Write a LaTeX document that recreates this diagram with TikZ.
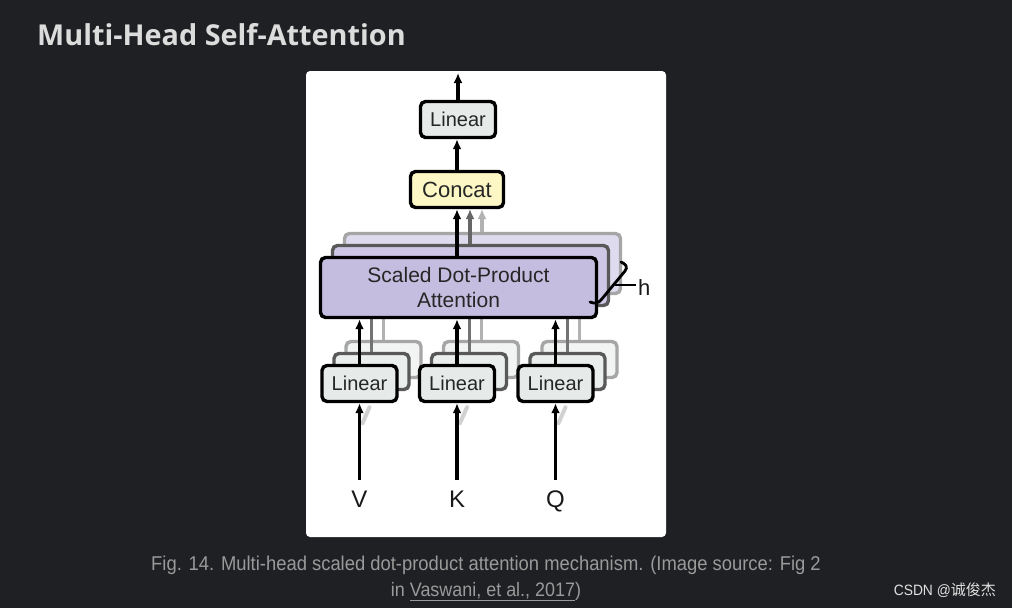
\documentclass[tikz,border=0pt]{standalone}
\usepackage{fontspec}
\setmainfont{Liberation Sans}
\newfontfamily\titlefont{Open Sans}
\newfontfamily\capfont[FakeStretch=0.92]{Liberation Sans}
\newfontfamily\cjkfont{Noto Sans CJK SC}
\usetikzlibrary{arrows.meta}

\definecolor{pagebg}{HTML}{1F2023}
\definecolor{titlegray}{HTML}{DCDCDC}
\definecolor{capgray}{HTML}{9A9A9A}
\definecolor{lingray}{HTML}{E6EBE9}
\definecolor{concatyel}{HTML}{FCF7C5}
\definecolor{attnpurple}{HTML}{C5BDE0}

\tikzset{
  blockbox/.style={draw, line width=3.4pt, rounded corners=5pt, inner sep=0pt,
    text=black!85, font=\fontsize{20}{22}\selectfont},
  linbox/.style={blockbox, fill=lingray, minimum width=75, minimum height=36},
  shadeone/.style={draw=black!65, fill=#1!85!white},
  shadetwo/.style={draw=black!35, fill=#1!55!white},
  arr/.style={line width=3.2pt, -{Latex[length=10pt,width=9pt]}},
  ghost/.style={line width=3pt, draw=#1},
}

\begin{document}
\begin{tikzpicture}[x=1pt,y=-1pt]
\useasboundingbox (0,0) rectangle (1012,608);
\fill[pagebg] (0,0) rectangle (1012,608);

% title
\node[anchor=base west, inner sep=0pt, text=titlegray,
  font=\titlefont\bfseries\fontsize{28.8}{32}\selectfont] (title) at (37,45) {Multi-Head Self-Attention};

% white panel
\fill[white, rounded corners=4pt] (306,71) rectangle (666,537);

% stacked attention heads
\node[blockbox, shadetwo=attnpurple, minimum width=276, minimum height=60] (attn2) at (482.5,263.5) {};
\node[blockbox, shadeone=attnpurple, minimum width=276, minimum height=60] (attn1) at (470.5,275.5) {};

% stacked linear layers
\foreach \cx/\nm in {359.5/v, 457/k, 555.5/q}{
  \node[linbox, shadetwo=lingray] (lin2\nm) at (\cx+24,359.5) {};
  \node[linbox, shadeone=lingray] (lin1\nm) at (\cx+12,371.5) {};
  \draw[ghost=black!30] (lin2\nm.north) -- (lin2\nm.north |- 0,319);
  \draw[ghost=black!55] (lin1\nm.north) -- (lin1\nm.north |- 0,319);
  \node[linbox] (lin\nm) at (\cx,383.5) {Linear};
}

\node[blockbox, fill=attnpurple, minimum width=276, minimum height=60, align=center,
  font=\fontsize{21}{25.5}\selectfont] (attn) at (458.5,287.5) {Scaled Dot-Product\\Attention};

\node[blockbox, fill=concatyel, minimum width=93, minimum height=36,
  font=\fontsize{22}{24}\selectfont] (concat) at (457,189.5) {Concat};
\node[linbox] (linout) at (458,119.5) {Linear};
\coordinate (out) at (458,73);

% inputs
\foreach \cx/\nm/\lbl in {359.5/v/V, 457/k/K, 555.5/q/Q}{
  \node[text=black!90, font=\fontsize{24}{26}\selectfont, anchor=base, inner sep=0pt] (in\nm) at (\cx,507) {\lbl};
  \coordinate (src\nm) at (\cx,480);
  \draw[line width=4pt, black!18, line cap=round] ([xshift=10,yshift=-4]lin\nm.south) -- ([xshift=3,yshift=-20]lin\nm.south);
  \draw[arr] (src\nm) -- (lin\nm.south);
  \draw[arr] (lin\nm.north) -- (lin\nm.north |- attn.south);
}

% arrows to concat
\draw[arr, black!30] (attn2.north -| 482,0) -- (482,209);
\draw[arr, black!60] (attn1.north -| 470,0) -- (470,209);
\draw[arr] (attn.north -| concat.south) -- (concat.south);
\draw[arr] (concat.north) -- (linout.south -| concat.north);
\draw[arr] (linout.north) -- (out);

% head count brace
\draw[line width=2.8pt, line cap=round] (621,262) .. controls (626,264) and (628,267) .. (625,271)
  -- (601,300) .. controls (599,303) and (594,304) .. (590,302);
\coordinate (hline) at (615,285);
\node[text=black!90, font=\fontsize{22}{24}\selectfont, anchor=west, inner sep=2pt] (hlbl) at (636,288) {h};
\draw[line width=2.4pt] (hline) -- (hlbl.west |- hline);

% caption
\node[text=capgray, font=\capfont\fontsize{20}{22}\selectfont, anchor=base] (cap1) at (486,570)
  {Fig. 14. Multi-head scaled dot-product attention mechanism. (Image source: Fig 2};
\node[text=capgray, font=\capfont\fontsize{19.5}{22}\selectfont, anchor=base, inner sep=0pt] (cap2) at (486,596)
  {in \underline{Vaswani, et al., 2017})};
\node[text=titlegray!85, font=\capfont\fontsize{15}{17}\selectfont, anchor=base east, inner sep=0pt] (mark) at (996,595)
  {CSDN @{\cjkfont 诚俊杰}};
\end{tikzpicture}
\end{document}
